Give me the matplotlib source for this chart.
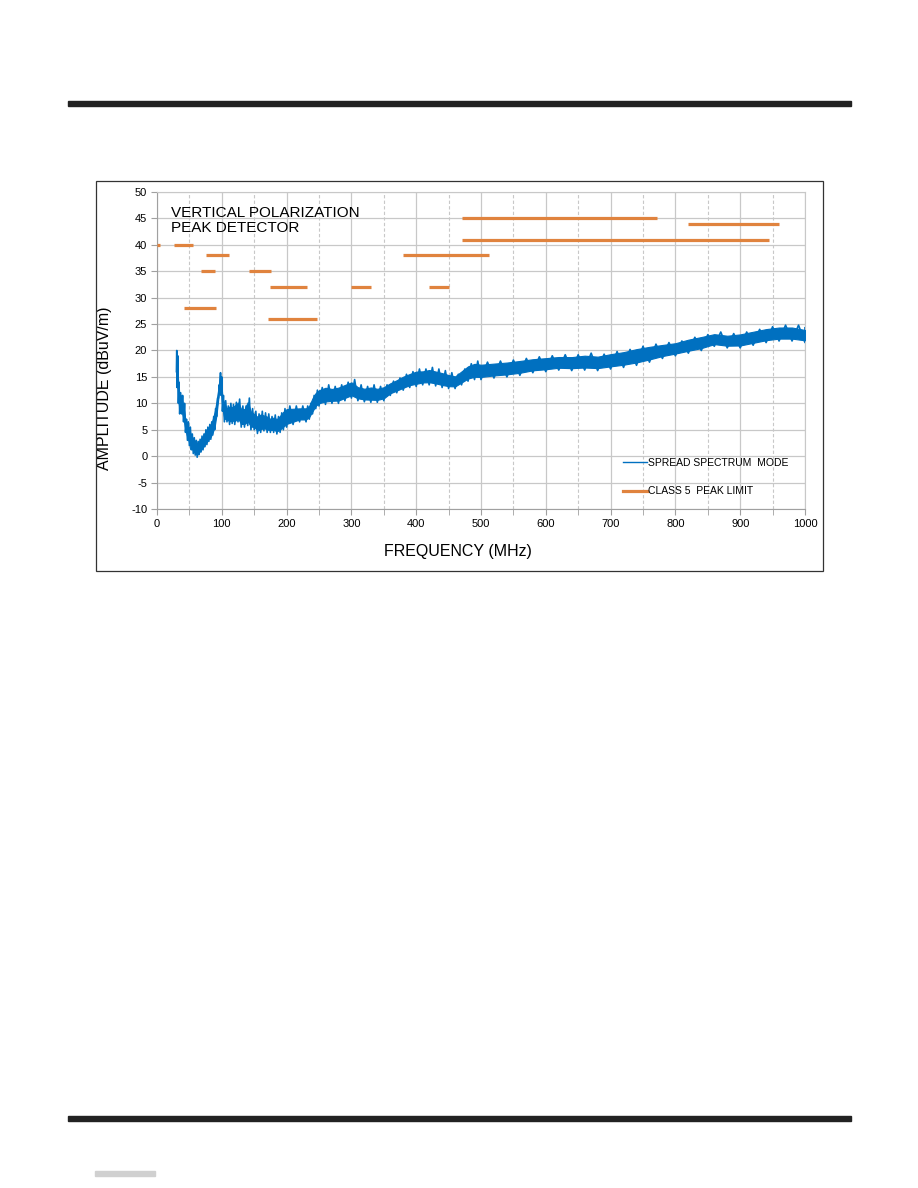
import numpy as np
import matplotlib
matplotlib.use("Agg")
from matplotlib import pyplot as plt
from matplotlib.patches import Rectangle
from matplotlib.lines import Line2D

plt.rcParams['font.family'] = ['Liberation Sans', 'DejaVu Sans']
plt.rcParams['axes.unicode_minus'] = False

# spread spectrum trace: frequency (MHz) with lower / upper edge of the noisy band (dBuV/m)
freq = [30, 31, 33, 35, 38, 41, 44, 47, 50, 53, 56, 59, 62, 65, 68, 71, 74, 77, 80, 83,
        86, 89, 92, 95, 97, 99, 101, 104, 108, 112, 116, 120, 125, 130, 135, 140, 145, 150,
        155, 160, 165, 170, 175, 180, 185, 190, 195, 200, 210, 220, 230, 235, 240, 245, 250,
        260, 270, 280, 290, 300, 310, 320, 330, 340, 350, 360, 370, 380, 390, 400, 410, 420,
        430, 440, 450, 460, 470, 480, 490, 500, 520, 540, 560, 580, 600, 620, 640, 660, 680,
        700, 720, 740, 760, 780, 800, 820, 840, 860, 880, 900, 920, 940, 960, 980, 1000]
amp_lo = [16, 13, 10, 8, 8, 6.5, 4.5, 3, 2, 1.2, 0.5, 0.2, -0.2, 0.3, 0.8, 1.2, 1.8, 2.2, 2.8, 3.2,
          4, 5, 7.5, 11, 12.5, 11.5, 8.5, 6.5, 6.5, 6, 6.2, 6, 6.5, 5.5, 5.5, 5.8, 5, 5,
          4.3, 4.5, 4.8, 4.5, 4.5, 4.5, 4.2, 4.5, 5, 5.5, 6, 6.5, 6.5, 7, 8, 9, 9.5,
          9.8, 10, 10, 10.5, 11, 10.5, 10.3, 10.2, 10.2, 10.5, 11.5, 12, 12.5, 13, 13.2, 13.5, 13.5,
          13.3, 13, 12.8, 12.8, 13.5, 14.2, 14.5, 14.5, 14.8, 15, 15.3, 15.8, 16, 16.3, 16.2, 16.3, 16.2,
          16.5, 16.8, 17.2, 17.8, 18.5, 19, 19.5, 20, 20.8, 20.5, 20.5, 21, 21.5, 21.8, 21.8, 21.5]
amp_hi = [20, 19, 14, 12, 11.5, 10, 7, 6.5, 5.5, 4.2, 3.5, 3, 2.8, 3.2, 3.8, 4.2, 5, 5.5, 6, 6.5,
          7.5, 9, 11, 13.5, 15.8, 15, 11.5, 10.5, 9.5, 10, 9.8, 10.2, 10.8, 9.5, 9.5, 11, 9, 8.5,
          8, 8.5, 8.2, 8, 7.5, 7.8, 7.5, 8.2, 9, 9.5, 9.5, 9.5, 9.5, 10, 11.5, 12.5, 13,
          13.5, 13.2, 13.5, 14, 14.5, 13.5, 13.2, 13.5, 13.2, 13.5, 14.2, 14.8, 15.5, 16, 16.5, 16.5, 16.8,
          16.5, 16.2, 15.8, 15.5, 16.5, 17.5, 18, 17.8, 18, 18.2, 18.5, 18.8, 19, 19.2, 19.2, 19.5, 19.3,
          19.8, 20.2, 20.8, 21.2, 21.5, 21.8, 22.5, 23, 23.5, 23.2, 23.5, 24, 24.5, 24.8, 24.8, 24.3]

# class 5 peak limit segments
lim_start = [0.5, 27, 76, 68, 142, 174, 300, 41, 171, 380, 420, 470, 820, 470]
lim_stop = [5, 56, 111, 90, 176, 231, 331, 91, 247, 513, 451, 771, 960, 945]
lim_level = [40, 40, 38, 35, 35, 32, 32, 28, 26, 38, 32, 45, 44, 41]

blue = '#0070C0'
orange = '#E0833E'
grid_c = '#C8C8C8'

fig = plt.figure(figsize=(9.18, 11.88), dpi=100)
W, H = 918.0, 1188.0

# page decorations
fig.patches.append(Rectangle((68 / W, 1 - 106 / H), (851 - 68) / W, 5 / H,
                             transform=fig.transFigure, color='#222222'))
fig.patches.append(Rectangle((68 / W, 1 - 1121 / H), (851 - 68) / W, 5 / H,
                             transform=fig.transFigure, color='#222222'))
fig.patches.append(Rectangle((95 / W, 1 - 1176 / H), 60 / W, 5 / H,
                             transform=fig.transFigure, color='#D0D0D0'))
fig.patches.append(Rectangle((96 / W, 1 - 571 / H), (823 - 96) / W, (571 - 181) / H,
                             transform=fig.transFigure, fill=False, edgecolor='#333333', lw=0.9))

ax = fig.add_axes([157 / W, 1 - 509 / H, (805 - 157) / W, (509 - 192) / H])

f = np.array(freq, dtype=float)
lo = np.array(amp_lo)
hi = np.array(amp_hi)
# solid core of the band, then a jagged line out to the read edges
span = hi - lo
ax.fill_between(f, lo + 0.15 * span, hi - 0.15 * span, color=blue, lw=0.8, zorder=3)
mid_f = np.append((f[:-1] + f[1:]) / 2, f[-1])
zx = np.ravel(np.column_stack([f, mid_f]))
zy = np.ravel(np.column_stack([lo, hi]))
ax.plot(zx, zy, color=blue, lw=1.2, zorder=3)

ax.hlines(lim_level, lim_start, lim_stop, colors=orange, lw=2.3, zorder=4)

ax.set_xlim(0, 1000)
ax.set_ylim(-10, 50)
ax.set_xticks(np.arange(0, 1001, 100))
ax.set_xticks(np.arange(50, 1000, 100), minor=True)
ax.set_yticks(np.arange(-10, 51, 5))
ax.grid(True, which='major', color=grid_c, lw=0.9, zorder=0)
ax.grid(True, which='minor', axis='x', color=grid_c, lw=0.8, ls=(0, (3, 2)), zorder=0)
ax.set_axisbelow(True)
for s in ax.spines.values():
    s.set_color(grid_c)
ax.spines['left'].set_color('#A0A0A0')
ax.spines['bottom'].set_color('#A0A0A0')
ax.tick_params(axis='both', which='major', length=4, color='#A0A0A0', labelsize=8, pad=3)
ax.tick_params(axis='x', which='minor', length=4, color='#A0A0A0')

ax.set_xlabel('FREQUENCY (MHz)', fontsize=11.5)
ax.xaxis.set_label_coords(0.464, -0.11)
ax.set_ylabel('AMPLITUDE (dBuV/m)', fontsize=11.5)
ax.yaxis.set_label_coords(-0.069, 0.382)

ax.text(0.022, 0.955, 'VERTICAL POLARIZATION\nPEAK DETECTOR', transform=ax.transAxes,
        fontsize=11, va='top', ha='left', linespacing=1.1)

handles = [Line2D([], [], color=blue, lw=1.0), Line2D([], [], color=orange, lw=2.3)]
ax.legend(handles, ['SPREAD SPECTRUM  MODE', 'CLASS 5  PEAK LIMIT'], loc='upper left',
          bbox_to_anchor=(0.719, 0.162), frameon=False, fontsize=7.5, handlelength=2.3,
          handletextpad=0.1, labelspacing=1.8, borderpad=0, borderaxespad=0)

fig.savefig('out.png', dpi=100, facecolor='white')
plt.close()
